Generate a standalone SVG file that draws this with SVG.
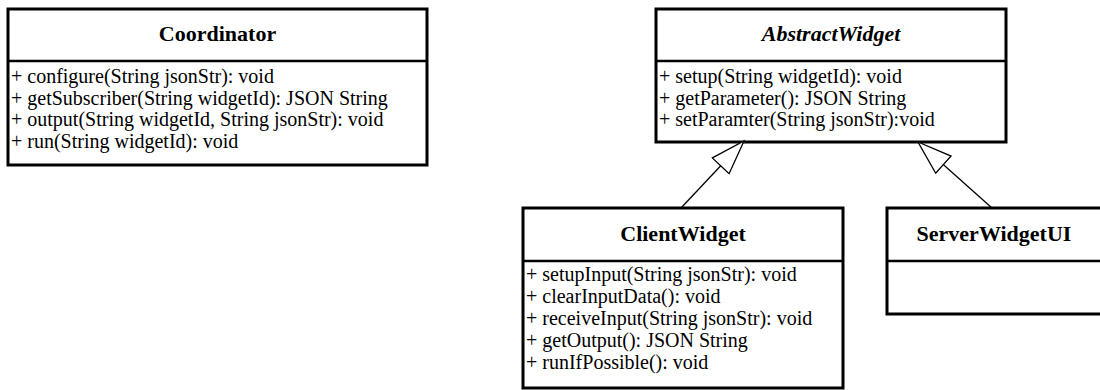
<svg xmlns="http://www.w3.org/2000/svg" width="1100" height="390" viewBox="0 0 1100 390">
  <style>
    .box { fill: #ffffff; stroke: #000000; stroke-width: 3; }
    .sep { stroke: #000000; stroke-width: 2.5; }
    .title { font-family: "Liberation Serif", "Times New Roman", serif; font-size: 22px; font-weight: bold; text-anchor: middle; fill: #000000; }
    .abstract { font-style: italic; }
    .member { font-family: "Liberation Serif", "Times New Roman", serif; font-size: 20px; fill: #000000; }
    .edge { fill: none; stroke: #000000; stroke-width: 1.3; }
  </style>
  <defs>
    <!-- hollow triangle for generalization -->
    <marker id="inherit" markerUnits="userSpaceOnUse" markerWidth="40" markerHeight="30" refX="35" refY="12.5" orient="auto">
      <path d="M1,1 L35,12.5 L1,24 Z" fill="#ffffff" stroke="#000000" stroke-width="1.3"/>
    </marker>
  </defs>
  <rect width="1100" height="390" fill="#ffffff"/>

  <g id="Coordinator">
    <rect class="box" x="8" y="9" width="419" height="156"/>
    <line class="sep" x1="8" y1="61" x2="427" y2="61"/>
    <text class="title" x="217.5" y="41">Coordinator</text>
    <text class="member" x="11" y="83">+ configure(String jsonStr): void</text>
    <text class="member" x="11" y="104.5">+ getSubscriber(String widgetId): JSON String</text>
    <text class="member" x="11" y="126">+ output(String widgetId, String jsonStr): void</text>
    <text class="member" x="11" y="147.5">+ run(String widgetId): void</text>
  </g>

  <g id="AbstractWidget">
    <rect class="box" x="656" y="9" width="350" height="133"/>
    <line class="sep" x1="656" y1="61" x2="1006" y2="61"/>
    <text class="title abstract" x="831" y="41">AbstractWidget</text>
    <text class="member" x="659" y="83">+ setup(String widgetId): void</text>
    <text class="member" x="659" y="104.5">+ getParameter(): JSON String</text>
    <text class="member" x="659" y="126">+ setParamter(String jsonStr):void</text>
  </g>

  <g id="ClientWidget">
    <rect class="box" x="523" y="208" width="320" height="180"/>
    <line class="sep" x1="523" y1="261" x2="843" y2="261"/>
    <text class="title" x="683" y="241">ClientWidget</text>
    <text class="member" x="526" y="281">+ setupInput(String jsonStr): void</text>
    <text class="member" x="526" y="303">+ clearInputData(): void</text>
    <text class="member" x="526" y="325">+ receiveInput(String jsonStr): void</text>
    <text class="member" x="526" y="347">+ getOutput(): JSON String</text>
    <text class="member" x="526" y="369">+ runIfPossible(): void</text>
  </g>

  <g id="ServerWidgetUI">
    <rect class="box" x="887" y="208" width="216" height="106"/>
    <line class="sep" x1="887" y1="261" x2="1103" y2="261"/>
    <text class="title" x="994" y="241">ServerWidgetUI</text>
  </g>

  <g id="connectors">
    <line class="edge" x1="681" y1="208" x2="744" y2="141" marker-end="url(#inherit)"/>
    <line class="edge" x1="992" y1="208" x2="918" y2="142" marker-end="url(#inherit)"/>
  </g>
</svg>
